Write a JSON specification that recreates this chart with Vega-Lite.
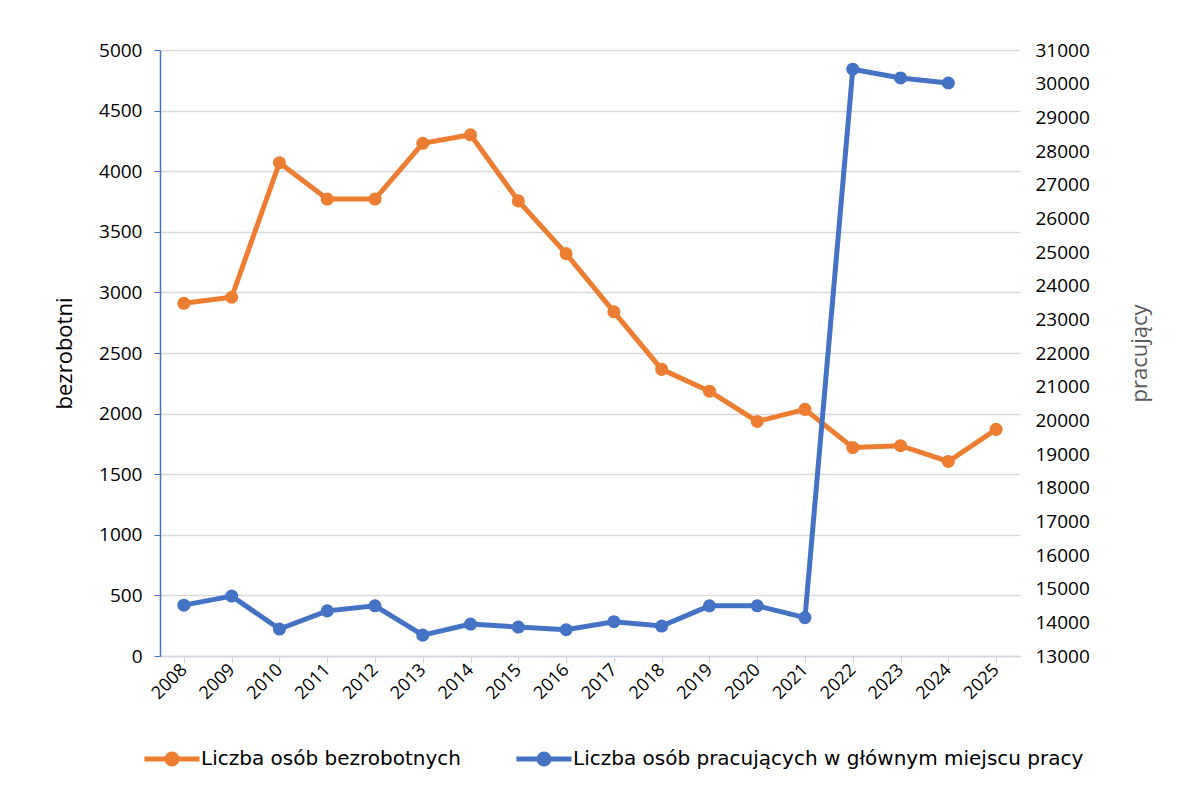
{
  "$schema": "https://vega.github.io/schema/vega-lite/v6.json",
  "width": 860,
  "height": 606,
  "autosize": {"type": "none"},
  "padding": {"left": 160, "top": 50, "right": 167, "bottom": 137},
  "background": "white",
  "config": {
    "font": "Open Sans",
    "view": {"stroke": null},
    "axis": {"labelFont": "Open Sans", "titleFont": "Open Sans", "labelFontSize": 18, "titleFontSize": 22, "labelColor": "#000000", "titleFontWeight": "normal"}
  },
  "data": {
    "values": [
      {"rok": "2008", "bezrobotni": 2910, "pracujacy": 14510},
      {"rok": "2009", "bezrobotni": 2960, "pracujacy": 14780},
      {"rok": "2010", "bezrobotni": 4070, "pracujacy": 13800},
      {"rok": "2011", "bezrobotni": 3770, "pracujacy": 14340},
      {"rok": "2012", "bezrobotni": 3770, "pracujacy": 14490},
      {"rok": "2013", "bezrobotni": 4230, "pracujacy": 13620},
      {"rok": "2014", "bezrobotni": 4300, "pracujacy": 13950},
      {"rok": "2015", "bezrobotni": 3755, "pracujacy": 13860},
      {"rok": "2016", "bezrobotni": 3320, "pracujacy": 13780},
      {"rok": "2017", "bezrobotni": 2840, "pracujacy": 14020},
      {"rok": "2018", "bezrobotni": 2365, "pracujacy": 13890},
      {"rok": "2019", "bezrobotni": 2185, "pracujacy": 14490},
      {"rok": "2020", "bezrobotni": 1935, "pracujacy": 14490},
      {"rok": "2021", "bezrobotni": 2035, "pracujacy": 14140},
      {"rok": "2022", "bezrobotni": 1720, "pracujacy": 30430},
      {"rok": "2023", "bezrobotni": 1735, "pracujacy": 30170},
      {"rok": "2024", "bezrobotni": 1605, "pracujacy": 30020},
      {"rok": "2025", "bezrobotni": 1870, "pracujacy": null}
    ]
  },
  "encoding": {
    "x": {
      "field": "rok", "type": "ordinal", "title": null,
      "axis": {"labelAngle": -45, "labelAlign": "right", "labelBaseline": "middle", "labelPadding": 4, "labelFontSize": 18, "domainColor": "#D0D6E2", "domainWidth": 1.5, "tickColor": "#C9D3E8", "tickSize": 7, "grid": false}
    }
  },
  "layer": [
    {
      "mark": {"type": "line", "strokeWidth": 5, "point": {"size": 170, "filled": true}},
      "encoding": {
        "y": {
          "field": "bezrobotni", "type": "quantitative", "title": "bezrobotni",
          "scale": {"domain": [0, 5000], "nice": false},
          "axis": {"orient": "left", "values": [0,500,1000,1500,2000,2500,3000,3500,4000,4500,5000], "format": "d", "labelFontSize": 19, "grid": true, "gridColor": "#D9D9D9", "gridWidth": 1.5, "domainColor": "#4472C4", "domainWidth": 1.5, "tickColor": "#4472C4", "tickSize": 6, "labelPadding": 12, "titlePadding": 22, "titleColor": "#000000"}
        },
        "color": {
          "datum": "Liczba osób bezrobotnych", "type": "nominal",
          "scale": {"domain": ["Liczba osób bezrobotnych", "Liczba osób pracujących w głównym miejscu pracy"], "range": ["#ED7D31", "#4472C4"]},
          "legend": {
            "title": null, "orient": "none", "legendX": -9, "legendY": 688, "direction": "horizontal",
            "labelFont": "DejaVu Sans", "labelFontSize": 20, "labelColor": "#000000", "labelLimit": 0, "columnPadding": 45,
            "symbolType": "M-1.5,0L1.5,0M0.27,0A0.27,0.27,0,1,1,-0.27,0A0.27,0.27,0,1,1,0.27,0Z",
            "symbolSize": 1350, "symbolStrokeWidth": 5, "labelOffset": 8,
            "encode": {"symbols": {"update": {"fill": {"scale": "color", "field": "value"}, "stroke": {"scale": "color", "field": "value"}, "strokeWidth": {"value": 5}, "fillOpacity": {"value": 1}}}}
          }
        }
      }
    },
    {
      "transform": [{"filter": "datum.pracujacy != null"}],
      "mark": {"type": "line", "strokeWidth": 5, "point": {"size": 170, "filled": true}},
      "encoding": {
        "y": {
          "field": "pracujacy", "type": "quantitative", "title": "pracujący",
          "scale": {"domain": [13000, 31000], "nice": false, "zero": false},
          "axis": {"orient": "right", "values": [13000,14000,15000,16000,17000,18000,19000,20000,21000,22000,23000,24000,25000,26000,27000,28000,29000,30000,31000], "format": "d", "labelFontSize": 19, "grid": false, "domain": false, "ticks": false, "labelPadding": 15, "titleAngle": 270, "titlePadding": 62, "titleColor": "#595959"}
        },
        "color": {"datum": "Liczba osób pracujących w głównym miejscu pracy", "type": "nominal"}
      }
    }
  ],
  "resolve": {"scale": {"y": "independent"}}
}
